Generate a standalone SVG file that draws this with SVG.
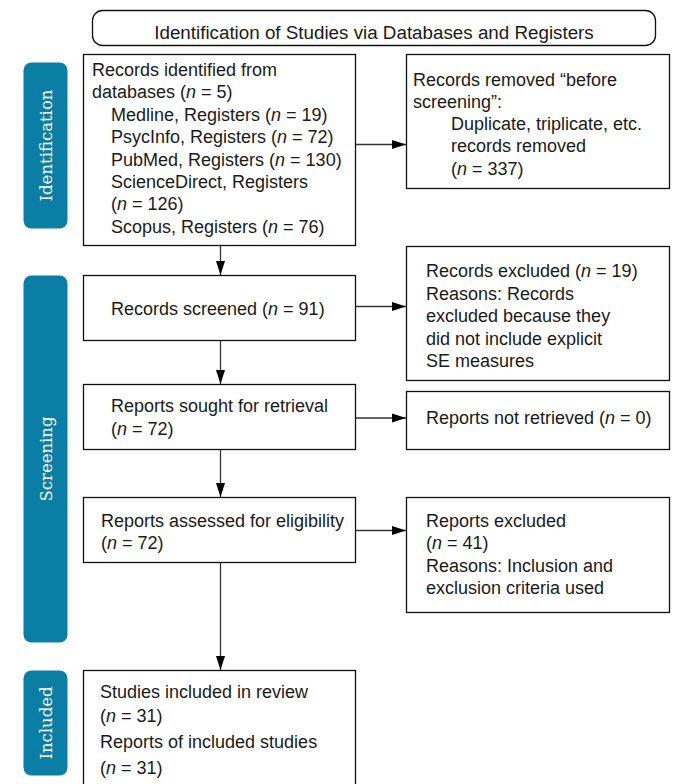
<svg xmlns="http://www.w3.org/2000/svg" width="674" height="784" viewBox="0 0 674 784">
<style>
.box{fill:#fff;stroke:#111;stroke-width:1.3}
.t{font-family:"Liberation Sans",Arial,sans-serif;font-size:18px;fill:#1a1a1a}
.i{font-style:italic}
.tab{fill:#0a7ea5}
.tabt{font-family:"DejaVu Serif",serif;font-size:16.5px;fill:#fff;text-anchor:middle}
.c{stroke:#333;stroke-width:1.3;fill:none;marker-end:url(#ah)}
</style>
<defs>
<marker id="ah" markerUnits="userSpaceOnUse" markerWidth="14" markerHeight="10" refX="14" refY="5" orient="auto">
<path d="M0,0.5 L14,5 L0,9.5 z" fill="#000"/>
</marker>
</defs>
<rect width="674" height="784" fill="#fff"/>
<g id="title">
<rect class="box" x="92.5" y="10.5" width="563" height="35" rx="10"/>
<text class="t" x="374" y="39" text-anchor="middle" style="font-size:18.8px">Identification of Studies via Databases and Registers</text>
</g>
<g id="tab-identification">
<rect class="tab" x="23.5" y="62.5" width="44" height="166" rx="8"/>
<text class="tabt" transform="translate(51.5,145.5) rotate(-90)">Identification</text>
</g>
<g id="tab-screening">
<rect class="tab" x="23.5" y="275.5" width="44" height="367" rx="8"/>
<text class="tabt" transform="translate(51.5,459) rotate(-90)">Screening</text>
</g>
<g id="tab-included">
<rect class="tab" x="23.5" y="670.5" width="44" height="105" rx="8"/>
<text class="tabt" transform="translate(51.5,723) rotate(-90)">Included</text>
</g>
<g id="records-identified">
<rect class="box" x="83.5" y="54.5" width="272" height="191"/>
<text class="t">
<tspan x="92" y="76">Records identified from</tspan>
<tspan x="92" y="98.4">databases (<tspan class="i">n</tspan> = 5)</tspan>
<tspan x="111" y="120.8">Medline, Registers (<tspan class="i">n</tspan> = 19)</tspan>
<tspan x="111" y="143.2">PsycInfo, Registers (<tspan class="i">n</tspan> = 72)</tspan>
<tspan x="111" y="165.6">PubMed, Registers (<tspan class="i">n</tspan> = 130)</tspan>
<tspan x="111" y="188">ScienceDirect, Registers</tspan>
<tspan x="111" y="210.4">(<tspan class="i">n</tspan> = 126)</tspan>
<tspan x="111" y="232.8">Scopus, Registers (<tspan class="i">n</tspan> = 76)</tspan>
</text>
</g>
<g id="records-removed">
<rect class="box" x="406.5" y="54.5" width="263" height="134"/>
<text class="t">
<tspan x="413" y="86">Records removed “before</tspan>
<tspan x="413" y="108">screening”:</tspan>
<tspan x="451" y="130">Duplicate, triplicate, etc.</tspan>
<tspan x="451" y="152">records removed</tspan>
<tspan x="451" y="174.5">(<tspan class="i">n</tspan> = 337)</tspan>
</text>
</g>
<g id="records-screened">
<rect class="box" x="83.5" y="275.5" width="272" height="65"/>
<text class="t" x="111" y="315">Records screened (<tspan class="i">n</tspan> = 91)</text>
</g>
<g id="records-excluded">
<rect class="box" x="406.5" y="246.5" width="263" height="134"/>
<text class="t">
<tspan x="426" y="277">Records excluded (<tspan class="i">n</tspan> = 19)</tspan>
<tspan x="426" y="299.5">Reasons: Records</tspan>
<tspan x="426" y="322">excluded because they</tspan>
<tspan x="426" y="344.5">did not include explicit</tspan>
<tspan x="426" y="367">SE measures</tspan>
</text>
</g>
<g id="reports-sought">
<rect class="box" x="83.5" y="384.5" width="272" height="65"/>
<text class="t">
<tspan x="111" y="412">Reports sought for retrieval</tspan>
<tspan x="111" y="435">(<tspan class="i">n</tspan> = 72)</tspan>
</text>
</g>
<g id="reports-not-retrieved">
<rect class="box" x="406.5" y="391.5" width="263" height="58"/>
<text class="t" x="426" y="424">Reports not retrieved (<tspan class="i">n</tspan> = 0)</text>
</g>
<g id="reports-assessed">
<rect class="box" x="83.5" y="497.5" width="272" height="65"/>
<text class="t">
<tspan x="101" y="527">Reports assessed for eligibility</tspan>
<tspan x="101" y="549">(<tspan class="i">n</tspan> = 72)</tspan>
</text>
</g>
<g id="reports-excluded">
<rect class="box" x="406.5" y="497.5" width="263" height="115"/>
<text class="t">
<tspan x="426" y="527">Reports excluded</tspan>
<tspan x="426" y="549">(<tspan class="i">n</tspan> = 41)</tspan>
<tspan x="426" y="571.5">Reasons: Inclusion and</tspan>
<tspan x="426" y="594">exclusion criteria used</tspan>
</text>
</g>
<g id="studies-included">
<rect class="box" x="83.5" y="670.5" width="272" height="130"/>
<text class="t">
<tspan x="100" y="698">Studies included in review</tspan>
<tspan x="100" y="722">(<tspan class="i">n</tspan> = 31)</tspan>
<tspan x="100" y="748">Reports of included studies</tspan>
<tspan x="100" y="774">(<tspan class="i">n</tspan> = 31)</tspan>
</text>
</g>
<g id="connectors">
<line class="c" x1="356" y1="144.5" x2="406" y2="144.5"/>
<line class="c" x1="220.5" y1="246" x2="220.5" y2="275"/>
<line class="c" x1="356" y1="306.5" x2="406" y2="306.5"/>
<line class="c" x1="220.5" y1="341" x2="220.5" y2="384"/>
<line class="c" x1="356" y1="418" x2="406" y2="418"/>
<line class="c" x1="220.5" y1="450" x2="220.5" y2="497"/>
<line class="c" x1="356" y1="530.5" x2="406" y2="530.5"/>
<line class="c" x1="220.5" y1="563" x2="220.5" y2="670"/>
</g>
</svg>
